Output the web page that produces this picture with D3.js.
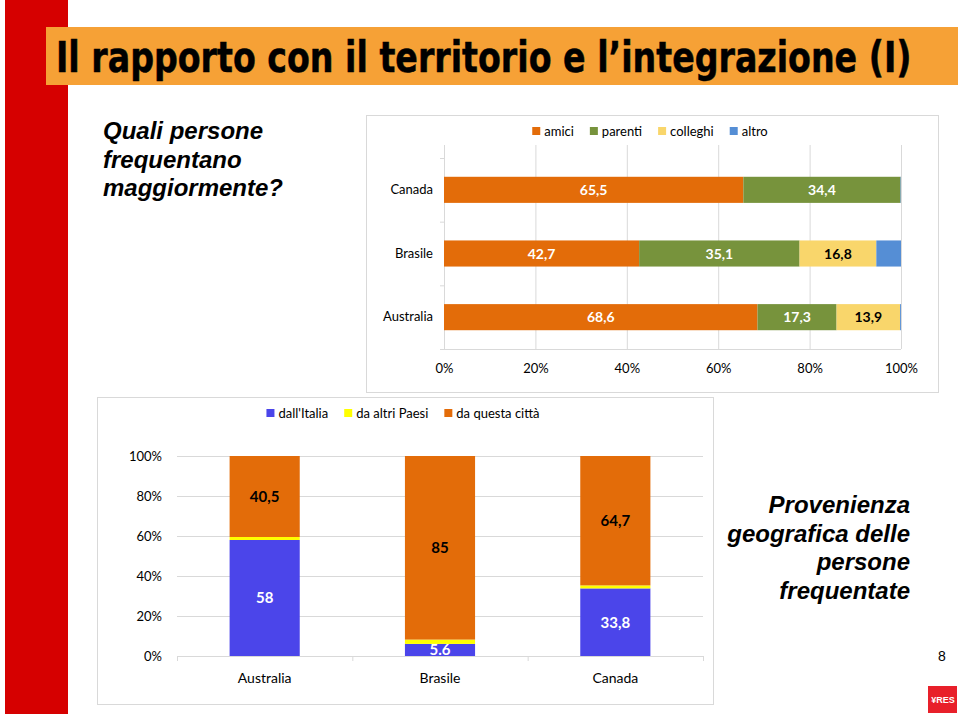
<!DOCTYPE html>
<html><head><meta charset="utf-8">
<script src="https://cdn.jsdelivr.net/npm/d3@7"></script>
<style>
html,body{margin:0;padding:0;background:#fff;}
svg{display:block;}
.chart text{font-family:Lato,"Open Sans",sans-serif;}
</style></head>
<body>
<script>
// ---- top chart data ----
const topCategories = ["Canada", "Brasile", "Australia"];
const topSeries = ["amici", "parenti", "colleghi", "altro"];
const amici = [65.5, 42.7, 68.6];
const parenti = [34.4, 35.1, 17.3];
const colleghi = [0, 16.8, 13.9];
const altro = [0.1, 5.4, 0.2];
const topTicks = [0, 20, 40, 60, 80, 100];

// ---- bottom chart data ----
const bottomCategories = ["Australia", "Brasile", "Canada"];
const bottomSeries = ["dall'Italia", "da altri Paesi", "da questa città"];
const dallItalia = [58, 5.6, 33.8];
const altriPaesi = [1.5, 2, 1.5];
const questaCitta = [40.5, 85, 64.7];
const dallItaliaLabels = ["58", "5.6", "33,8"];
const questaCittaLabels = ["40,5", "85", "64,7"];
const bottomTicks = [0, 20, 40, 60, 80, 100];

const W = 960, H = 716;
const svg = d3.select("body").append("svg").attr("width", W).attr("height", H);
svg.append("rect").attr("width", W).attr("height", H).attr("fill", "#fff");

// ---- slide decoration ----
svg.append("rect").attr("x", 5).attr("y", 0).attr("width", 63).attr("height", 714).attr("fill", "#D60000");
svg.append("rect").attr("x", 46).attr("y", 27).attr("width", 912).attr("height", 58).attr("fill", "#F6A136");
const title = svg.append("text").attr("x", 0).attr("y", 0)
  .attr("font-family", "'Liberation Sans Narrow','DejaVu Sans Condensed','Liberation Sans',sans-serif")
  .attr("font-weight", "bold").attr("font-size", 42)
  .attr("fill", "#000").attr("stroke", "#000").attr("stroke-width", 0.5)
  .text("Il rapporto con il territorio e l’integrazione (I)");
const natural = title.node().getComputedTextLength();
title.attr("transform", `translate(56,72) scale(${856 / natural},1)`);

const qLines = ["Quali persone", "frequentano", "maggiormente?"];
svg.append("g").selectAll("text").data(qLines).join("text")
  .attr("x", 103).attr("y", (d, i) => 139 + i * 28.5)
  .attr("font-family", "'Liberation Sans',Arial,sans-serif")
  .attr("font-weight", "bold").attr("font-style", "italic").attr("font-size", 24)
  .attr("fill", "#000").text(d => d);

const pLines = ["Provenienza", "geografica delle", "persone", "frequentate"];
svg.append("g").selectAll("text").data(pLines).join("text")
  .attr("x", 910).attr("y", (d, i) => 513 + i * 28.7).attr("text-anchor", "end")
  .attr("font-family", "'Liberation Sans',Arial,sans-serif")
  .attr("font-weight", "bold").attr("font-style", "italic").attr("font-size", 24)
  .attr("fill", "#000").text(d => d);

svg.append("text").attr("x", 942).attr("y", 661).attr("text-anchor", "middle")
  .attr("font-family", "'Liberation Sans',Arial,sans-serif").attr("font-size", 14).text("8");
svg.append("rect").attr("x", 928).attr("y", 686).attr("width", 29).attr("height", 27).attr("fill", "#E8202A");
svg.append("text").attr("x", 943).attr("y", 703).attr("text-anchor", "middle")
  .attr("font-family", "'Liberation Sans',Arial,sans-serif").attr("font-weight", "bold")
  .attr("font-size", 9).attr("fill", "#fff").text("¥RES");

// legend helper
function legend(g, keys, color, cx, cy) {
  const items = g.append("g");
  let x = 0;
  keys.forEach(k => {
    const it = items.append("g").attr("transform", `translate(${x},0)`);
    it.append("rect").attr("x", 0).attr("y", -4).attr("width", 8).attr("height", 8).attr("fill", color(k));
    const t = it.append("text").attr("x", 12).attr("y", 0).attr("dy", "0.35em")
      .attr("font-size", 13).attr("fill", "#000").text(k);
    x += 12 + t.node().getComputedTextLength() + 16;
  });
  const total = x - 16;
  items.attr("transform", `translate(${cx - total / 2},${cy})`);
}

// ================= TOP CHART =================
const topG = svg.append("g").attr("class", "chart");
topG.append("rect").attr("x", 366.5).attr("y", 115.5).attr("width", 572).attr("height", 277)
  .attr("fill", "#fff").attr("stroke", "#D9D9D9");

const tx = d3.scaleLinear().domain([0, 100]).range([444, 901]);
const ty = d3.scaleBand().domain(topCategories).range([158, 349]).paddingInner(0.59).paddingOuter(0.295);
const topColors = d3.scaleOrdinal().domain(topSeries).range(["#E36C09", "#77933C", "#F9D66B", "#558ED5"]);
const topLabelColors = {amici: "#fff", parenti: "#fff", colleghi: "#000", altro: "#000"};

topG.append("g").selectAll("line").data(topTicks.filter(d => d > 0)).join("line")
  .attr("x1", d => tx(d) + 0.5).attr("x2", d => tx(d) + 0.5).attr("y1", 145).attr("y2", 349)
  .attr("stroke", "#D9D9D9");
topG.append("line").attr("x1", 444).attr("x2", 901).attr("y1", 349.5).attr("y2", 349.5).attr("stroke", "#D9D9D9");
topG.append("line").attr("x1", 444.5).attr("x2", 444.5).attr("y1", 145).attr("y2", 349).attr("stroke", "#D9D9D9");
topG.append("g").selectAll("line").data(d3.range(topCategories.length + 1)).join("line")
  .attr("x1", 440).attr("x2", 444)
  .attr("y1", i => ty.range()[0] + i * ty.step() + 0.5).attr("y2", i => ty.range()[0] + i * ty.step() + 0.5)
  .attr("stroke", "#D9D9D9");

const topRows = topCategories.map((c, i) => ({cat: c, amici: amici[i], parenti: parenti[i], colleghi: colleghi[i], altro: altro[i]}));
const topStack = d3.stack().keys(topSeries).offset(d3.stackOffsetExpand)(topRows);

const tg = topG.append("g").selectAll("g").data(topStack).join("g").attr("fill", s => topColors(s.key));
tg.selectAll("rect").data(s => s).join("rect")
  .attr("x", d => tx(d[0] * 100)).attr("width", d => Math.max(0, tx(d[1] * 100) - tx(d[0] * 100)))
  .attr("y", d => ty(d.data.cat)).attr("height", ty.bandwidth());

const fmt = v => String(v).replace(".", ",");
topG.append("g").selectAll("g").data(topStack.filter(s => s.key !== "altro")).join("g")
  .each(function (s) {
    d3.select(this).selectAll("text").data(s.filter(d => d.data[s.key] > 1)).join("text")
      .attr("x", d => (tx(d[0] * 100) + tx(d[1] * 100)) / 2)
      .attr("y", d => ty(d.data.cat) + ty.bandwidth() / 2)
      .attr("dy", "0.36em").attr("text-anchor", "middle")
      .attr("font-size", 14).attr("font-weight", "bold")
      .attr("fill", topLabelColors[s.key])
      .text(d => fmt(d.data[s.key]));
  });

const txAxis = topG.append("g").attr("transform", "translate(0,349)")
  .call(d3.axisBottom(tx).tickValues(topTicks).tickFormat(d => d + "%").tickSize(0).tickPadding(15));
txAxis.select(".domain").remove();
txAxis.selectAll("text").attr("font-size", 13).attr("fill", "#000").attr("font-family", "Lato,sans-serif");
const tyAxis = topG.append("g").attr("transform", "translate(444,0)")
  .call(d3.axisLeft(ty).tickSize(0).tickPadding(11));
tyAxis.select(".domain").remove();
tyAxis.selectAll("text").attr("font-size", 13).attr("fill", "#000").attr("font-family", "Lato,sans-serif");

legend(topG, topSeries, topColors, 650, 131);

// ================= BOTTOM CHART =================
const botG = svg.append("g").attr("class", "chart");
botG.append("rect").attr("x", 97.5).attr("y", 397.5).attr("width", 616).attr("height", 307)
  .attr("fill", "#fff").attr("stroke", "#D9D9D9");

const by = d3.scaleLinear().domain([0, 100]).range([656, 456]);
const bx = d3.scaleBand().domain(bottomCategories).range([177, 703]).paddingInner(0.6).paddingOuter(0.3);
const botColors = d3.scaleOrdinal().domain(bottomSeries).range(["#4B45EA", "#FFFF00", "#E36C09"]);

botG.append("g").selectAll("line").data(bottomTicks.filter(d => d > 0)).join("line")
  .attr("x1", 177).attr("x2", 703).attr("y1", d => by(d) + 0.5).attr("y2", d => by(d) + 0.5)
  .attr("stroke", "#D9D9D9");

const botRows = bottomCategories.map((c, i) => ({cat: c, "dall'Italia": dallItalia[i], "da altri Paesi": altriPaesi[i], "da questa città": questaCitta[i], li: dallItaliaLabels[i], lc: questaCittaLabels[i]}));
const botStack = d3.stack().keys(bottomSeries).offset(d3.stackOffsetExpand)(botRows);

const bg = botG.append("g").selectAll("g").data(botStack).join("g").attr("fill", s => botColors(s.key));
bg.selectAll("rect").data(s => s).join("rect")
  .attr("x", d => bx(d.data.cat)).attr("width", bx.bandwidth())
  .attr("y", d => by(d[1] * 100)).attr("height", d => by(d[0] * 100) - by(d[1] * 100));

botG.append("line").attr("x1", 177).attr("x2", 703).attr("y1", 656.5).attr("y2", 656.5).attr("stroke", "#D9D9D9");
botG.append("g").selectAll("line").data(d3.range(bottomCategories.length + 1)).join("line")
  .attr("x1", i => 177 + i * bx.step() + 0.5).attr("x2", i => 177 + i * bx.step() + 0.5)
  .attr("y1", 656).attr("y2", 661).attr("stroke", "#D9D9D9");

svg.append("defs").append("clipPath").attr("id", "plotclip")
  .append("rect").attr("x", 177).attr("y", 440).attr("width", 526).attr("height", 216);
const lab = botG.append("g").attr("clip-path", "url(#plotclip)");
const sItal = botStack[0], sCitta = botStack[2];
lab.selectAll("text.li").data(sItal).join("text").attr("class", "li")
  .attr("x", d => bx(d.data.cat) + bx.bandwidth() / 2)
  .attr("y", d => (by(d[0] * 100) + by(d[1] * 100)) / 2).attr("dy", "0.36em")
  .attr("text-anchor", "middle").attr("font-size", 15).attr("font-weight", "bold").attr("fill", "#fff")
  .text(d => d.data.li);
lab.selectAll("text.lc").data(sCitta).join("text").attr("class", "lc")
  .attr("x", d => bx(d.data.cat) + bx.bandwidth() / 2)
  .attr("y", d => (by(d[0] * 100) + by(d[1] * 100)) / 2).attr("dy", "0.36em")
  .attr("text-anchor", "middle").attr("font-size", 15).attr("font-weight", "bold").attr("fill", "#000")
  .text(d => d.data.lc);

const byAxis = botG.append("g").attr("transform", "translate(177,0)")
  .call(d3.axisLeft(by).tickValues(bottomTicks).tickFormat(d => d + "%").tickSize(0).tickPadding(15));
byAxis.select(".domain").remove();
byAxis.selectAll("text").attr("font-size", 13).attr("fill", "#000").attr("font-family", "Lato,sans-serif");

const bxAxis = botG.append("g").attr("transform", "translate(0,656)")
  .call(d3.axisBottom(bx).tickSize(0).tickPadding(17));
bxAxis.select(".domain").remove();
bxAxis.selectAll("text").attr("font-size", 14).attr("fill", "#000").attr("font-family", "Lato,sans-serif");

legend(botG, bottomSeries, botColors, 403, 413);
</script>
</body></html>
